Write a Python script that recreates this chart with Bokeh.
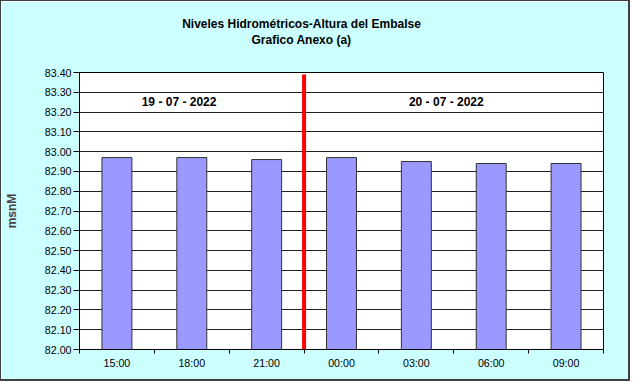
from bokeh.plotting import figure
from bokeh.models import Range1d, FixedTicker, PrintfTickFormatter, Label
from bokeh.embed import file_html
from bokeh.resources import INLINE

# ---- data ----
times = ["15:00", "18:00", "21:00", "00:00", "03:00", "06:00", "09:00"]
levels = [82.97, 82.97, 82.96, 82.97, 82.95, 82.94, 82.94]
y_ticks = [82.0, 82.1, 82.2, 82.3, 82.4, 82.5, 82.6, 82.7, 82.8, 82.9,
           83.0, 83.1, 83.2, 83.3, 83.4]
y_min, y_max = 82.0, 83.4
day_labels = ["19 - 07 - 2022", "20 - 07 - 2022"]
day_label_x = [1.33, 4.9]
day_label_y = [83.253, 83.253]
day_split = 3  # index where the second day starts
title_lines = ["Niveles Hidrom\u00e9tricos-Altura del Embalse", "Grafico Anexo (a)"]
y_label = "msnM"

FONT = "Liberation Sans"
n = len(times)
centers = [i + 0.5 for i in range(n)]
bounds = [float(i) for i in range(n + 1)]

p = figure(width=630, height=381, output_backend="svg", toolbar_location=None,
           x_range=Range1d(0, n), y_range=Range1d(y_min, y_max),
           min_border_left=77, min_border_right=28, min_border_top=71,
           min_border_bottom=33)
p.styles = {"border-top": "1px solid #404040", "border-left": "1px solid #404040",
            "border-right": "2px solid #404040", "border-bottom": "2px solid #404040"}
p.background_fill_color = "white"
p.border_fill_color = "#CCFFFF"
p.outline_line_color = "black"
p.outline_line_width = 1
p.title.visible = False

# title lines placed in the "above" panels (screen units relative to each panel)
for t, ys in zip(title_lines, [49, 19]):
    p.add_layout(Label(x=222, y=ys, x_units="screen", y_units="screen", text=t,
                       text_align="center", text_baseline="middle",
                       text_font=FONT, text_font_style="bold", text_font_size="12px",
                       text_color="black"), "above")

# grid
p.xgrid.visible = False
p.ygrid.ticker = FixedTicker(ticks=y_ticks)
p.ygrid.grid_line_color = "#202020"
p.ygrid.grid_line_width = 1

# bars
p.vbar(x=centers, top=levels, bottom=y_min, width=0.4,
       fill_color="#9999FF", line_color="#333333", line_width=1)

# day separator
p.segment(x0=[day_split], y0=[y_min], x1=[day_split], y1=[y_max - 0.01],
          line_color="#FF0000", line_width=4)

# day labels
for t, x, y in zip(day_labels, day_label_x, day_label_y):
    p.add_layout(Label(x=x, y=y, text=t, text_align="center", text_baseline="middle",
                       text_font=FONT, text_font_style="bold", text_font_size="12px",
                       text_color="black"))

# x axis
xa = p.xaxis[0]
xa.ticker = FixedTicker(ticks=centers, minor_ticks=bounds)
xa.major_label_overrides = {c: t for c, t in zip(centers, times)}
xa.major_tick_line_color = None
xa.major_tick_in = 0
xa.major_tick_out = 4
xa.minor_tick_in = 0
xa.minor_tick_out = 4
xa.minor_tick_line_color = "black"
xa.axis_line_color = "black"
xa.major_label_standoff = 3
xa.major_label_text_font = FONT
xa.major_label_text_font_size = "8pt"
xa.major_label_text_color = "black"

# y axis
ya = p.yaxis[0]
ya.ticker = FixedTicker(ticks=y_ticks)
ya.formatter = PrintfTickFormatter(format="%.2f")
ya.major_tick_in = 0
ya.major_tick_out = 6
ya.minor_tick_line_color = None
ya.axis_line_color = "black"
ya.major_label_standoff = 2
ya.major_label_text_font = FONT
ya.major_label_text_font_size = "8pt"
ya.major_label_text_color = "black"
ya.axis_label = y_label
ya.axis_label_text_font = FONT
ya.axis_label_text_font_style = "bold"
ya.axis_label_text_font_size = "12px"
ya.axis_label_standoff = 23

open("out.html", "w").write(file_html(p, INLINE))
